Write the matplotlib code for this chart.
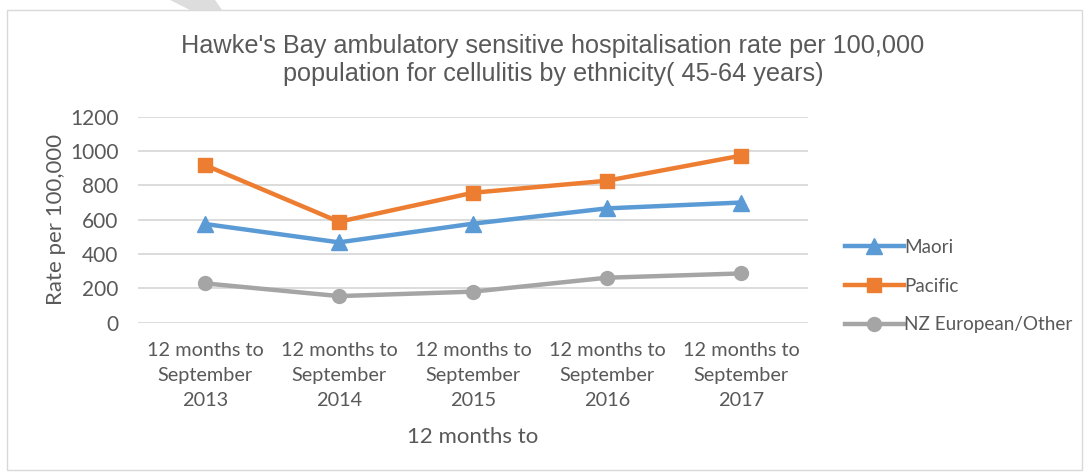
import matplotlib.pyplot as plt
from matplotlib.patches import Rectangle, Polygon

# data
periods = ['12 months to\nSeptember\n2013', '12 months to\nSeptember\n2014',
           '12 months to\nSeptember\n2015', '12 months to\nSeptember\n2016',
           '12 months to\nSeptember\n2017']
maori = [575, 468, 577, 666, 700]
pacific = [918, 588, 757, 827, 973]
nz_european = [229, 155, 181, 262, 287]

text_col = '#595959'
fig = plt.figure(figsize=(10.89, 4.75), dpi=100)

# chart area border and the faint watermark stroke at the top
fig.patches.append(Rectangle((7 / 1089, 1 - 470 / 475), 1075 / 1089, 460 / 475,
                             transform=fig.transFigure, fill=False,
                             edgecolor='#D9D9D9', linewidth=1))
fig.patches.append(Polygon([(170 / 1089, 1), (215 / 1089, 1), (222 / 1089, 1 - 10 / 475),
                            (190 / 1089, 1 - 10 / 475)], closed=True,
                           transform=fig.transFigure, facecolor='#DDDDDD', edgecolor='none'))

ax = fig.add_axes([138 / 1089, 1 - 322.7 / 475, 670 / 1089, 206 / 475])
x = range(len(periods))
ax.plot(x, maori, color='#5B9BD5', lw=3.2, marker='^', ms=12, label='Maori')
ax.plot(x, pacific, color='#ED7D31', lw=3.2, marker='s', ms=10, label='Pacific')
ax.plot(x, nz_european, color='#A5A5A5', lw=3.2, marker='o', ms=10, label='NZ European/Other')

ax.set_xlim(-0.5, len(periods) - 0.5)
ax.set_ylim(0, 1200)
ax.set_yticks(range(0, 1201, 200))
ax.set_xticks(list(x))
ax.set_xticklabels(periods, fontsize=14.3, color=text_col, family='Lato', linespacing=1.58)
for lab in ax.get_yticklabels():
    lab.set_fontsize(15)
    lab.set_color(text_col)
    lab.set_family('Lato')
ax.tick_params(length=0, pad=14)
ax.tick_params(axis='x', pad=14)
ax.grid(axis='y', color='#D9D9D9', lw=1.3)
ax.set_axisbelow(True)
for s in ax.spines.values():
    s.set_visible(False)

ax.set_ylabel('Rate per 100,000', fontsize=16, color=text_col, family='Lato', labelpad=3)
ax.set_xlabel('12 months to', fontsize=16, color=text_col, family='Lato', labelpad=13)

fig.text(553 / 1089, 1 - 60 / 475,
         "Hawke's Bay ambulatory sensitive hospitalisation rate per 100,000\n"
         "population for cellulitis by ethnicity( 45-64 years)",
         ha='center', va='center', fontsize=18.2, color=text_col,
         family='Liberation Sans', linespacing=1.2)

fig.legend(loc='center left', bbox_to_anchor=(828 / 1089, 1 - 286 / 475), frameon=False,
           prop={'family': 'Lato', 'size': 13.6}, labelcolor=text_col,
           handlelength=3.1, handletextpad=0.05, labelspacing=1.15)

fig.savefig('out.png', dpi=100)
